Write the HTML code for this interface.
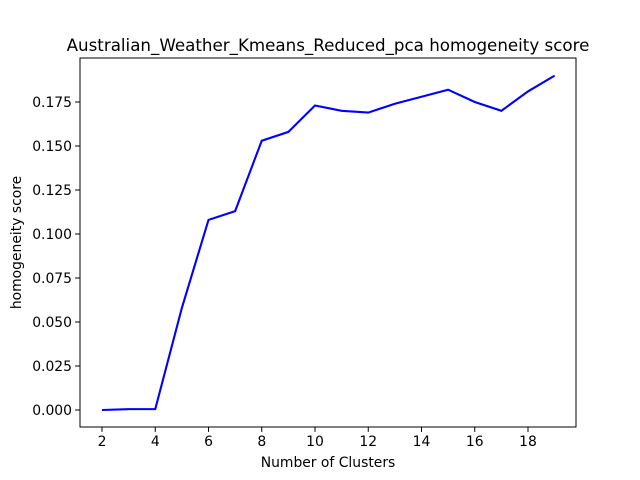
<!DOCTYPE html>
<html><head><meta charset="utf-8"><style>
body{margin:0;background:#fff;}
svg{display:block;font-family:"DejaVu Sans","Liberation Sans",sans-serif;}
</style></head><body>
<svg id="chart" width="640" height="480" viewBox="0 0 640 480">
<rect width="640" height="480" fill="#fff"/>
<text x="328" y="51" text-anchor="middle" font-size="16.7">Australian_Weather_Kmeans_Reduced_pca homogeneity score</text>
<rect x="80" y="58" width="496" height="369" fill="none" stroke="#000" stroke-width="1"/>
<g id="xt"></g><g id="yt"></g>
<path id="line" fill="none" stroke="#0000ff" stroke-width="2.1"/>
<text x="328" y="467" text-anchor="middle" font-size="13.9">Number of Clusters</text>
<text transform="translate(21,242.5) rotate(-90)" text-anchor="middle" font-size="13.9">homogeneity score</text>
</svg>
<script>
const clusters=[2,3,4,5,6,7,8,9,10,11,12,13,14,15,16,17,18,19];
const scores=[0.0,0.0005,0.0005,0.058,0.108,0.113,0.153,0.158,0.173,0.170,0.169,0.174,0.178,0.182,0.175,0.170,0.181,0.190];
const xTicks=[2,4,6,8,10,12,14,16,18];
const yTicks=[0,0.025,0.05,0.075,0.1,0.125,0.15,0.175];
const yLabels=["0.000","0.025","0.050","0.075","0.100","0.125","0.150","0.175"];
const NS="http://www.w3.org/2000/svg";
function sx(v){return 102+(v-2)*26.625;}
function sy(v){return 410-v/0.025*44;}
const xt=document.getElementById('xt'),yt=document.getElementById('yt');
xTicks.forEach(t=>{
  const l=document.createElementNS(NS,'line');
  
  
  l.setAttribute('x1',sx(t));l.setAttribute('x2',sx(t));l.setAttribute('y1',427);l.setAttribute('y2',431.9);l.setAttribute('stroke','#000');
  xt.appendChild(l);
  const tx=document.createElementNS(NS,'text');
  
  
  tx.setAttribute('x',sx(t));tx.setAttribute('y',446);tx.setAttribute('text-anchor','middle');tx.setAttribute('font-size','13.9');
  tx.textContent=t;xt.appendChild(tx);
});
yTicks.forEach((t,i)=>{
  const l=document.createElementNS(NS,'line');
  
  
  l.setAttribute('x1',75.1);l.setAttribute('x2',80);l.setAttribute('y1',sy(t));l.setAttribute('y2',sy(t));l.setAttribute('stroke','#000');
  yt.appendChild(l);
  const tx=document.createElementNS(NS,'text');
  
  
  tx.setAttribute('x',72);tx.setAttribute('y',sy(t)+5);tx.setAttribute('text-anchor','end');tx.setAttribute('font-size','13.9');
  tx.textContent=yLabels[i];yt.appendChild(tx);
});
document.getElementById('line').setAttribute('d',clusters.map((c,i)=>(i?'L':'M')+sx(c)+' '+sy(scores[i])).join(' '));
</script>
</body></html>
